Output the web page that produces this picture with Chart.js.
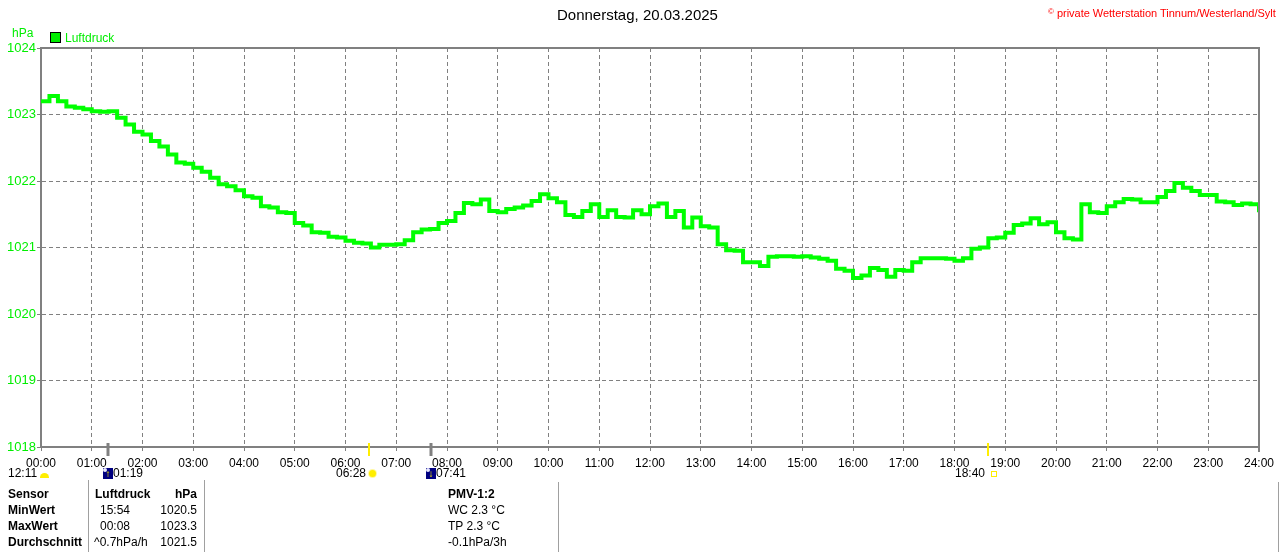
<!DOCTYPE html>
<html>
<head>
<meta charset="utf-8">
<title>Luftdruck 20.03.2025</title>
<script src="https://cdn.jsdelivr.net/npm/chart.js@4.4.1/dist/chart.umd.min.js"></script>
<style>
    body { margin: 0; background: #ffffff; }
    #wrap { position: relative; width: 1280px; height: 552px; overflow: hidden;
            font-family: "Liberation Sans", Arial, sans-serif; font-size: 12px; color: #000; }
    #wrap div.t { position: absolute; white-space: nowrap; line-height: 16px; }
    canvas { position: absolute; left: 0; top: 0; }
    .sep { position: absolute; width: 1px; background: #a0a0a0; }
    .ico { display: inline-block; vertical-align: middle; }
</style>
</head>
<body>
<div id="wrap">
    <canvas id="chart" width="1280" height="552"></canvas>
</div>
<script>
// Luftdruck in hPa, one value every 10 minutes from 00:00 to 24:00
var sampleMinutes = 10;
var pressure = [
    1023.20, 1023.28, 1023.20, 1023.12, 1023.10, 1023.08, 1023.05, 1023.04, 1023.05, 1022.95,
    1022.85, 1022.74, 1022.70, 1022.60, 1022.52, 1022.40, 1022.28, 1022.26, 1022.20, 1022.14,
    1022.05, 1021.95, 1021.92, 1021.86, 1021.77, 1021.75, 1021.62, 1021.60, 1021.53, 1021.52,
    1021.37, 1021.33, 1021.23, 1021.22, 1021.16, 1021.15, 1021.10, 1021.07, 1021.06, 1021.00,
    1021.04, 1021.04, 1021.05, 1021.11, 1021.23, 1021.27, 1021.28, 1021.37, 1021.40, 1021.52,
    1021.67, 1021.65, 1021.72, 1021.55, 1021.53, 1021.58, 1021.60, 1021.63, 1021.70, 1021.80,
    1021.74, 1021.68, 1021.49, 1021.46, 1021.55, 1021.65, 1021.46, 1021.56, 1021.46, 1021.45,
    1021.56, 1021.50, 1021.62, 1021.66, 1021.46, 1021.55, 1021.30, 1021.45, 1021.32, 1021.30,
    1021.05, 1020.96, 1020.95, 1020.78, 1020.78, 1020.72, 1020.86, 1020.87, 1020.87, 1020.86,
    1020.87, 1020.85, 1020.83, 1020.80, 1020.68, 1020.65, 1020.54, 1020.58, 1020.69, 1020.66,
    1020.56, 1020.66, 1020.65, 1020.78, 1020.84, 1020.84, 1020.84, 1020.83, 1020.80, 1020.84,
    1020.98, 1021.00, 1021.14, 1021.15, 1021.22, 1021.34, 1021.36, 1021.44, 1021.35, 1021.38,
    1021.23, 1021.14, 1021.12, 1021.65, 1021.53, 1021.52, 1021.62, 1021.68, 1021.73, 1021.72,
    1021.68, 1021.68, 1021.76, 1021.85, 1021.97, 1021.90, 1021.85, 1021.79, 1021.79, 1021.69,
    1021.68, 1021.64, 1021.66, 1021.65, 1021.53
];

// axis ranges
var yMin = 1018;
var yMax = 1024;
var xMinHour = 0;
var xMaxHour = 24;

// moon / sun events (hours), marked on the time axis
var eventLabels = ["12:11", "01:19", "06:28", "07:41", "18:40"];
var eventIcons = ["moonset", "moonrise", "sunrise", "moonset2", "sunset"];
var eventMarkHours = [1 + 19 / 60, 6 + 28 / 60, 7 + 41 / 60, 18 + 40 / 60];
var eventMarkColors = ["#808080", "#ffee00", "#808080", "#ffee00"];
var eventMarkWidths = [3, 2, 3, 2];

// summary table
var tableRowNames = ["Sensor", "MinWert", "MaxWert", "Durchschnitt"];
var tableTimes = ["Luftdruck", "15:54", "00:08", "^0.7hPa/h"];
var tableValues = ["hPa", "1020.5", "1023.3", "1021.5"];
var tablePmv = ["PMV-1:2", "WC 2.3 °C", "TP 2.3 °C", "-0.1hPa/3h"];

function addText(text, left, top, style)
{
    var wrap = document.getElementById("wrap");
    var el = document.createElement("div");
    el.className = "t";
    el.innerHTML = text;
    el.style.left = left + "px";
    el.style.top = top + "px";
    if (style)
    {
        el.setAttribute("style", el.getAttribute("style") + ";" + style);
    }
    wrap.appendChild(el);
    return el;
}

function addSep(left, top, height)
{
    var el = document.createElement("div");
    el.className = "sep";
    el.style.left = left + "px";
    el.style.top = top + "px";
    el.style.height = height + "px";
    document.getElementById("wrap").appendChild(el);
}

function iconHtml(kind)
{
    if (kind == "moonset")
    {
        return '<span class="ico" style="width:9px;height:5px;background:#ffee00;border-radius:5px 5px 0 0;margin-top:3px"></span>';
    }
    if (kind == "moonrise" || kind == "moonset2")
    {
        var arrow = kind == "moonrise" ? "&#8593;" : "&#8595;";
        return '<span class="ico" style="width:10px;height:11px;background:#000080;color:#ffee00;font-size:10px;line-height:11px;text-align:center;font-weight:bold;position:relative">' +
            '<span style="position:absolute;left:0;top:0;width:4px;height:4px;background:#e8e8ff;border-radius:2px"></span>' + arrow + '</span>';
    }
    if (kind == "sunrise")
    {
        return '<span class="ico" style="width:7px;height:7px;background:#ffee00;border-radius:4px;box-shadow:0 0 0 1px #fff8a0"></span>';
    }
    return '<span class="ico" style="width:4px;height:4px;border:1px solid #ffee00;margin-left:3px"></span>';
}

function buildTexts()
{
    // header
    addText("Donnerstag, 20.03.2025", 557, 6, "font-size:15px;line-height:18px");
    addText("<span style='font-size:8px;vertical-align:3px'>&copy;</span> private Wetterstation Tinnum/Westerland/Sylt",
        1048, 4, "font-size:11px;color:#ff0000;letter-spacing:-0.02px");
    addText("hPa", 12, 25, "color:#00ee00");
    addText('<span class="ico" style="width:9px;height:9px;background:#00ee00;border:1px solid #000;margin-right:4px;margin-top:-2px"></span>Luftdruck',
        50, 30, "color:#00ee00");

    // events under the time axis
    addText(eventLabels[0] + " " + iconHtml(eventIcons[0]), 8, 465);
    addText(iconHtml(eventIcons[1]) + eventLabels[1], 103, 465);
    addText(eventLabels[2] + " " + iconHtml(eventIcons[2]), 336, 465);
    addText(iconHtml(eventIcons[3]) + eventLabels[3], 426, 465);
    addText(eventLabels[4] + " " + iconHtml(eventIcons[4]), 955, 465);

    // summary table
    for (var i = 0; i < tableRowNames.length; i++)
    {
        var top = 486 + i * 16;
        addText(tableRowNames[i], 8, top, "font-weight:bold");
        var timeLeft = i == 0 ? 95 : (i == 3 ? 94 : 100);
        addText(tableTimes[i], timeLeft, top, i == 0 ? "font-weight:bold" : "");
        var v = addText(tableValues[i], 0, top, i == 0 ? "font-weight:bold" : "");
        v.style.left = "";
        v.style.right = (1280 - 197) + "px";
        addText(tablePmv[i], 448, top, i == 0 ? "font-weight:bold" : "");
    }
    addSep(88, 480, 72);
    addSep(204, 480, 72);
    addSep(558, 482, 70);
    addSep(1278, 482, 70);
}

// frame and event marks drawn on top of the chart
var framePlugin = {
    id: "frame",
    afterDraw: function(chart)
    {
        var ctx = chart.ctx;
        var area = chart.chartArea;
        var xScale = chart.scales.x;
        ctx.save();
        ctx.strokeStyle = "#808080";
        ctx.lineWidth = 2;
        ctx.beginPath();
        ctx.moveTo(area.left, area.top);
        ctx.lineTo(area.right, area.top);
        ctx.lineTo(area.right, area.bottom + 5);
        ctx.stroke();

        for (var i = 0; i < eventMarkHours.length; i++)
        {
            var px = Math.round(xScale.getPixelForValue(eventMarkHours[i]));
            ctx.strokeStyle = eventMarkColors[i];
            ctx.lineWidth = eventMarkWidths[i];
            ctx.beginPath();
            ctx.moveTo(px, area.bottom - 4);
            ctx.lineTo(px, area.bottom + 9);
            ctx.stroke();
        }
        ctx.restore();
    }
};

function buildChart()
{
    var points = [];
    pressure.forEach(function(value, index) {
        points.push({ x: index * sampleMinutes / 60, y: value });
    });

    var ctx = document.getElementById("chart").getContext("2d");
    Chart.defaults.font.family = '"Liberation Sans", Arial, sans-serif';
    Chart.defaults.font.size = 12;

    new Chart(ctx, {
        type: "line",
        data: {
            datasets: [
                {
                    label: "Luftdruck",
                    data: points,
                    borderColor: "#00ff00",
                    backgroundColor: "#00ff00",
                    borderWidth: 4,
                    pointRadius: 0,
                    stepped: true
                }
            ]
        },
        options: {
            responsive: false,
            animation: false,
            events: [],
            layout: { padding: { left: 0, top: 48, right: 21, bottom: 0 } },
            plugins: {
                legend: { display: false },
                tooltip: { enabled: false }
            },
            scales: {
                x: {
                    type: "linear",
                    min: xMinHour,
                    max: xMaxHour,
                    afterFit: function(scale) { scale.height = 105; },
                    ticks: {
                        stepSize: 1,
                        color: "#000000",
                        maxRotation: 0,
                        autoSkip: false,
                        padding: 5,
                        callback: function(value) {
                            return (value < 10 ? "0" : "") + value + ":00";
                        }
                    },
                    grid: { color: "#808080", tickLength: 4, tickColor: "#808080" },
                    border: { color: "#808080", width: 2, dash: [4, 3] }
                },
                y: {
                    min: yMin,
                    max: yMax,
                    afterFit: function(scale) { scale.width = 41; },
                    ticks: {
                        stepSize: 1,
                        color: "#00ee00",
                        padding: 1,
                        font: { size: 13 },
                        callback: function(value) {
                            return String(value);
                        }
                    },
                    grid: { color: "#808080", tickLength: 4, tickColor: "#808080" },
                    border: { color: "#808080", width: 2, dash: [4, 3] }
                }
            }
        },
        plugins: [framePlugin]
    });
}

buildTexts();
buildChart();
</script>
</body>
</html>
